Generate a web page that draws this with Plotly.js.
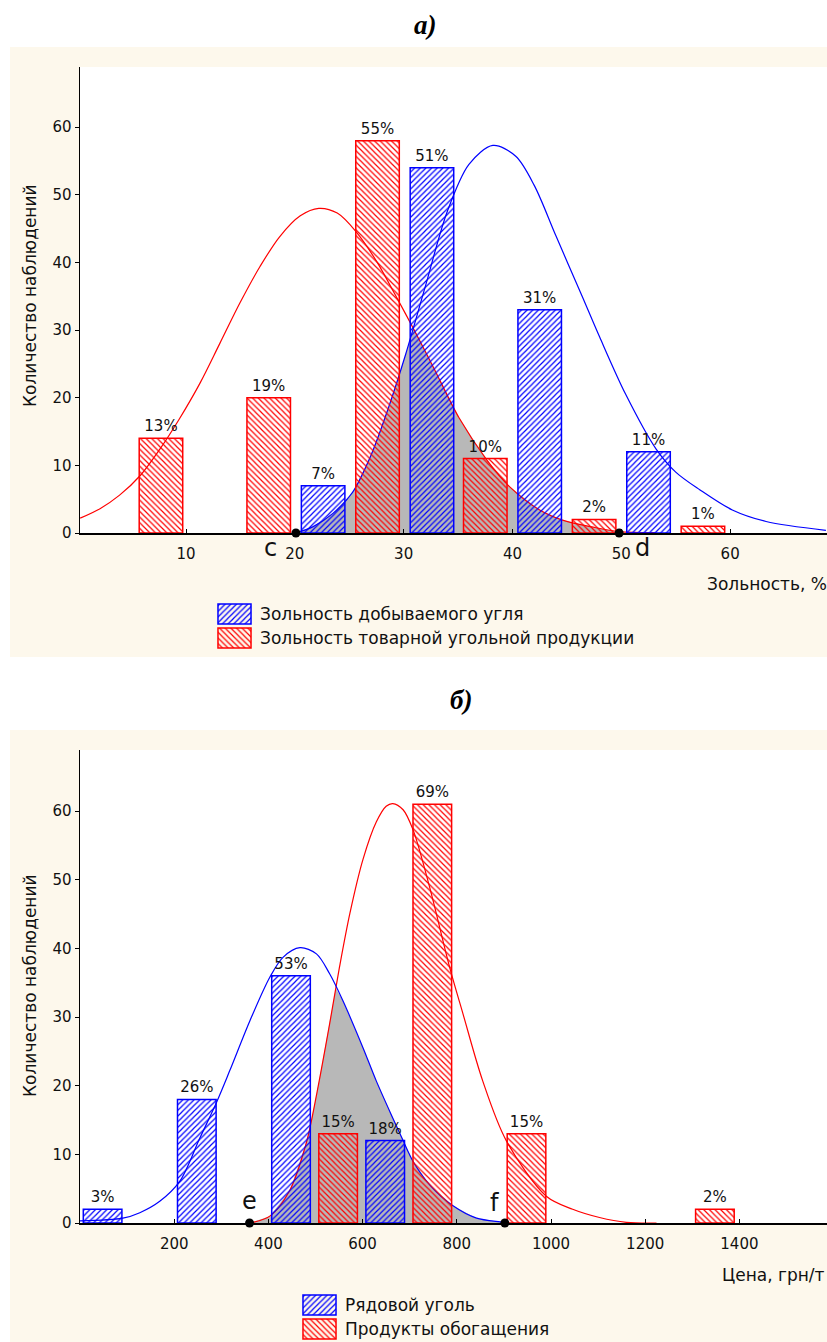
<!DOCTYPE html>
<html><head><meta charset="utf-8">
<script src="https://cdn.plot.ly/plotly-3.0.1.min.js"></script>
<style>html,body{margin:0;padding:0;background:#fff}#chart{width:827px;height:1342px}</style>
</head><body><div id="chart"></div>
<script>
// ---------- Chart а) : ash content ----------
const ashBinsMined = [22.6, 32.6, 42.5, 52.5];
const ashCountsMined = [7, 54, 33, 12];
const ashPctMined = ['7%', '51%', '31%', '11%'];
const ashBinsProduct = [7.7, 17.6, 27.6, 37.5, 47.5, 57.5];
const ashCountsProduct = [14, 20, 58, 11, 2, 1];
const ashPctProduct = ['13%', '19%', '55%', '10%', '2%', '1%'];

const ashCurveMinedX = [20.1, 21.65, 23.5, 25.3, 27.0, 28.6, 30.2, 32.0, 34.0, 36.0, 38.2, 40.3, 42.0, 44.0, 46.4, 48.0, 50.4, 53.2, 55.0, 57.2, 60.2, 63.3, 68.8];
const ashCurveMinedY = [0, 0.9, 2.9, 6.0, 11.5, 18.5, 26.5, 36.5, 47.5, 54.5, 57.3, 55.7, 51.4, 43.9, 35.0, 29.0, 20.5, 12.4, 9.0, 6.4, 3.4, 1.7, 0.4];
const ashCurveProductX = [0.27, 2.1, 3.9, 5.8, 7.6, 9.4, 11.3, 13.1, 14.95, 16.8, 18.6, 20.5, 22.2, 23.9, 25.6, 27.5, 29.3, 31.0, 32.8, 35.1, 37.6, 39.7, 42.5, 44.6, 47.3, 49.8, 53.2];
const ashCurveProductY = [2.2, 3.6, 5.6, 8.5, 12.4, 16.9, 22.2, 28.0, 34.0, 39.4, 43.8, 46.9, 48.0, 47.3, 44.6, 40.2, 35.0, 29.9, 24.3, 17.0, 10.9, 6.9, 3.4, 1.9, 0.9, 0.2, 0.05];
const ashOverlapX = [20.1, 21.65, 23.5, 25.3, 27.0, 28.6, 30.2, 30.9, 32.8, 35.1, 37.6, 39.7, 42.5, 44.6, 47.3, 49.8];
const ashOverlapY = [0, 0.9, 2.9, 6.0, 11.5, 18.5, 26.5, 30.4, 24.3, 17.0, 10.9, 6.9, 3.4, 1.9, 0.9, 0.2];
const ashPointsX = [20.1, 49.8];
const ashPointsLabels = ['c', 'd'];
const ashTicks = [10, 20, 30, 40, 50, 60];
const legendA = ['Зольность добываемого угля', 'Зольность товарной угольной продукции'];

// ---------- Chart б) : price ----------
const priceBinsRaw = [48, 248, 448, 648];
const priceCountsRaw = [2, 18, 36, 12];
const pricePctRaw = ['3%', '26%', '53%', '18%'];
const priceBinsProduct = [548, 748, 948, 1348];
const priceCountsProduct = [13, 61, 13, 2];
const pricePctProduct = ['15%', '69%', '15%', '2%'];

const priceCurveRawX = [0, 91, 127, 170, 212, 254, 290, 318, 361, 403, 431, 467, 502, 530, 558, 601, 629, 664, 686, 707, 742, 792, 842, 897, 902];
const priceCurveRawY = [0.3, 0.7, 1.5, 3.2, 6.1, 12.3, 17.6, 22.2, 29.5, 35.8, 38.7, 40.1, 39.2, 36.3, 32.4, 25.5, 20.7, 15.3, 12.0, 9.0, 5.6, 2.5, 0.7, 0.1, 0];
const priceCurveProductX = [360, 403, 445, 481, 502, 530, 551, 573, 601, 629, 650, 664, 686, 707, 742, 785, 813, 855, 905, 990, 1046, 1103, 1160, 1224];
const priceCurveProductY = [0, 1.0, 4.7, 11.8, 18.6, 29.0, 37.3, 45.1, 53.0, 58.4, 60.7, 61.1, 60.2, 57.3, 49.0, 37.2, 30.5, 20.7, 12.0, 3.9, 2.0, 0.8, 0.1, 0];
const priceOverlapX = [360, 403, 445, 481, 502, 530, 543, 558, 601, 629, 664, 686, 707, 742, 792, 842, 897, 902];
const priceOverlapY = [0, 1.0, 4.7, 11.8, 18.6, 29.0, 34.2, 32.4, 25.5, 20.7, 15.3, 12.0, 9.0, 5.6, 2.5, 0.7, 0.1, 0];
const pricePointsX = [360, 902];
const pricePointsLabels = ['e', 'f'];
const priceTicks = [200, 400, 600, 800, 1000, 1200, 1400];
const legendB = ['Рядовой уголь', 'Продукты обогащения'];

const countTicks = [0, 10, 20, 30, 40, 50, 60];
const titles = ['а)', 'б)'];
const yTitle = 'Количество наблюдений';
const xTitles = ['Зольность, %', 'Цена, грн/т'];

// ---------- helpers ----------
const W = 827, H = 1342;
const px = v => v / W;
const py = v => (H - v) / H;
const BLUE = '#0000ff', RED = '#ff0000', GRAY = '#b8b8b8', CREAM = '#fdf8ec';
const FONT = 'DejaVu Sans';

function hatchBar(x, y, width, color, shape, text, xa, ya, extra) {
  return Object.assign({
    type: 'bar', x: x, y: y, width: width, xaxis: xa, yaxis: ya,
    marker: { color: color, line: { color: color, width: 1.5 },
      pattern: { shape: shape, size: 4, solidity: 0.3, fillmode: 'replace' } },
    text: text, textposition: 'outside', cliponaxis: false, constraintext: 'none',
    textfont: { family: FONT, size: 15, color: '#111' }, hoverinfo: 'skip'
  }, extra || {});
}
function curve(x, y, color, xa, ya) {
  return { type: 'scatter', mode: 'lines', x: x, y: y, xaxis: xa, yaxis: ya,
    line: { color: color, width: 1.2, shape: 'spline', smoothing: 0.9 }, hoverinfo: 'skip' };
}
function shade(x, y, xa, ya) {
  return { type: 'scatter', mode: 'lines', x: x, y: y, xaxis: xa, yaxis: ya,
    fill: 'tozeroy', fillcolor: GRAY, line: { width: 0, color: GRAY }, hoverinfo: 'skip' };
}
function dots(x, xa, ya) {
  return { type: 'scatter', mode: 'markers', x: x, y: x.map(() => 0), xaxis: xa, yaxis: ya,
    marker: { size: 9, color: '#000' }, cliponaxis: false, hoverinfo: 'skip' };
}

const data = [
  // chart а – base subplot (shade + curves, drawn under the bars)
  shade(ashOverlapX, ashOverlapY, 'x', 'y'),
  curve(ashCurveProductX, ashCurveProductY, RED, 'x', 'y'),
  curve(ashCurveMinedX, ashCurveMinedY, BLUE, 'x', 'y'),
  // chart а – overlay subplot (bars + points)
  hatchBar(ashBinsProduct, ashCountsProduct, 4, RED, '\\', ashPctProduct, 'x5', 'y5'),
  hatchBar(ashBinsMined, ashCountsMined, 4, BLUE, '/', ashPctMined, 'x5', 'y5'),
  dots(ashPointsX, 'x5', 'y5'),
  // chart б
  shade(priceOverlapX, priceOverlapY, 'x2', 'y2'),
  curve(priceCurveProductX, priceCurveProductY, RED, 'x2', 'y2'),
  curve(priceCurveRawX, priceCurveRawY, BLUE, 'x2', 'y2'),
  hatchBar(priceBinsProduct, priceCountsProduct, 82, RED, '\\', pricePctProduct, 'x6', 'y6'),
  hatchBar(priceBinsRaw, priceCountsRaw, 82, BLUE, '/', pricePctRaw, 'x6', 'y6'),
  dots(pricePointsX, 'x6', 'y6'),
  // legend swatches
  hatchBar([1], [1], 0.83, BLUE, '/', null, 'x3', 'y3', { orientation: 'h', base: 0, textposition: 'none' }),
  hatchBar([1], [0], 0.83, RED, '\\', null, 'x3', 'y3', { orientation: 'h', base: 0, textposition: 'none' }),
  hatchBar([1], [1], 0.83, BLUE, '/', null, 'x4', 'y4', { orientation: 'h', base: 0, textposition: 'none' }),
  hatchBar([1], [0], 0.83, RED, '\\', null, 'x4', 'y4', { orientation: 'h', base: 0, textposition: 'none' })
];

const tickFont = { family: FONT, size: 15, color: '#111' };
function xAxis(domain, range, ticks, anchor) {
  return { domain: domain, range: range, anchor: anchor, showline: true, linecolor: '#000', linewidth: 1.5,
    ticks: 'inside', ticklen: 4, tickwidth: 1, tickcolor: '#000', tickvals: ticks, tickfont: tickFont,
    ticklabelstandoff: 6, showgrid: false, zeroline: false, fixedrange: true };
}
function yAxis(domain, anchor) {
  return { domain: domain, range: [0, 68.9], anchor: anchor, showline: true, linecolor: '#000', linewidth: 1.5,
    ticks: 'outside', ticklen: 4, tickwidth: 1, tickcolor: '#000', tickvals: countTicks, tickfont: tickFont,
    showgrid: false, zeroline: false, fixedrange: true };
}
const hidden = (o) => Object.assign({ visible: false, fixedrange: true, showgrid: false, zeroline: false }, o);

const ann = [];
const txt = (text, x, y, size, opts) => ann.push(Object.assign({ text: text, x: x, y: y, xref: 'paper', yref: 'paper',
  xanchor: 'center', yanchor: 'middle', showarrow: false, font: { family: FONT, size: size, color: '#111' } }, opts || {}));
const titleFont = { family: 'Liberation Serif', size: 27, color: '#000', weight: 'bold', style: 'italic' };
// panel titles
txt(titles[0], px(425), py(25), 27, { font: titleFont });
txt(titles[1], px(461), py(700), 27, { font: titleFont });
// axis titles
txt(yTitle, px(30), py(296), 17, { textangle: -90 });
txt(yTitle, px(30), py(986), 17, { textangle: -90 });
txt(xTitles[0], px(705), py(584), 17, { xanchor: 'left' });
txt(xTitles[1], 1, py(1275), 17, { xanchor: 'right' });
// legends
txt(legendA[0], px(258), py(614), 17, { xanchor: 'left' });
txt(legendA[1], px(258), py(638), 17, { xanchor: 'left' });
txt(legendB[0], px(343), py(1305), 17, { xanchor: 'left' });
txt(legendB[1], px(343), py(1329), 17, { xanchor: 'left' });
// point labels
const ptFont = { family: FONT, size: 24, color: '#111' };
const ptAnn = (t, x, xr, yr, dx, dy) => ann.push({ text: t, x: x, y: 0, xref: xr, yref: yr, xanchor: 'center', yanchor: 'middle',
  showarrow: false, xshift: dx, yshift: dy, font: ptFont });
ptAnn(ashPointsLabels[0], ashPointsX[0], 'x', 'y', -25, -15);
ptAnn(ashPointsLabels[1], ashPointsX[1], 'x', 'y', 23, -15);
ptAnn(pricePointsLabels[0], pricePointsX[0], 'x2', 'y2', 0, 22);
ptAnn(pricePointsLabels[1], pricePointsX[1], 'x2', 'y2', -10, 20);

const xRangeA = [0.26, 68.9], xRangeB = [0, 1586];
const layout = {
  width: W, height: H, margin: { l: 0, r: 0, t: 0, b: 0 },
  paper_bgcolor: '#fff', plot_bgcolor: '#fff', showlegend: false, barmode: 'overlay',
  font: { family: FONT, color: '#111' },
  xaxis: xAxis([px(80), 1], xRangeA, ashTicks, 'y'),
  yaxis: yAxis([py(533), py(67)], 'x'),
  xaxis2: xAxis([px(80), 1], xRangeB, priceTicks, 'y2'),
  yaxis2: yAxis([py(1223), py(750)], 'x2'),
  xaxis5: hidden({ overlaying: 'x', range: xRangeA, anchor: 'y5' }),
  yaxis5: hidden({ overlaying: 'y', range: [0, 68.9], anchor: 'x5' }),
  xaxis6: hidden({ overlaying: 'x2', range: xRangeB, anchor: 'y6' }),
  yaxis6: hidden({ overlaying: 'y2', range: [0, 68.9], anchor: 'x6' }),
  xaxis3: hidden({ domain: [px(216), px(253)], range: [-0.06, 1.06], anchor: 'y3' }),
  yaxis3: hidden({ domain: [py(650), py(602)], range: [-0.5, 1.5], anchor: 'x3' }),
  xaxis4: hidden({ domain: [px(301), px(338)], range: [-0.06, 1.06], anchor: 'y4' }),
  yaxis4: hidden({ domain: [py(1341), py(1293)], range: [-0.5, 1.5], anchor: 'x4' }),
  shapes: [
    { type: 'rect', xref: 'paper', yref: 'paper', x0: px(10), x1: 1, y0: py(657), y1: py(47), fillcolor: CREAM, line: { width: 0 }, layer: 'below' },
    { type: 'rect', xref: 'paper', yref: 'paper', x0: px(10), x1: 1, y0: 0, y1: py(730), fillcolor: CREAM, line: { width: 0 }, layer: 'below' },
    { type: 'rect', xref: 'x domain', yref: 'y domain', x0: 0, x1: 1, y0: 0, y1: 1, fillcolor: '#fff', line: { width: 0 }, layer: 'below' },
    { type: 'rect', xref: 'x2 domain', yref: 'y2 domain', x0: 0, x1: 1, y0: 0, y1: 1, fillcolor: '#fff', line: { width: 0 }, layer: 'below' }
  ],
  annotations: ann
};

Plotly.newPlot('chart', data, layout, { staticPlot: true, displayModeBar: false });
</script>
</body></html>
